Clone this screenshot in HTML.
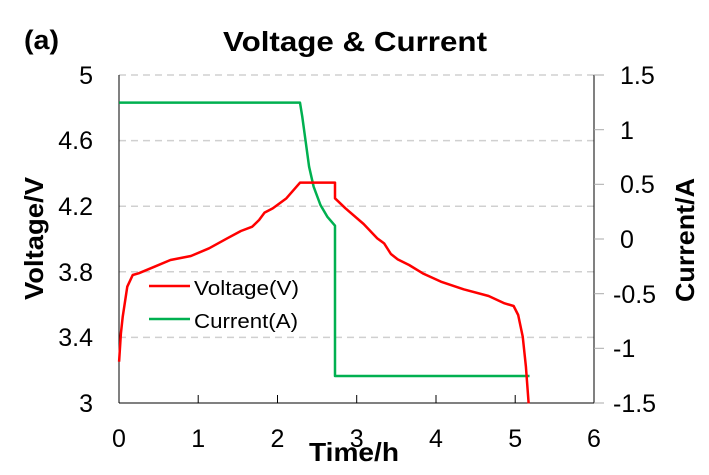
<!DOCTYPE html>
<html><head><style>body{margin:0;background:#fff}svg{display:block}text{font-family:"Liberation Sans",sans-serif}</style></head>
<body>
<svg width="709" height="475" viewBox="0 0 709 475">
<text x="24" y="49" font-size="27" font-weight="bold" textLength="35" lengthAdjust="spacingAndGlyphs">(a)</text>
<text x="223" y="51" font-size="28" font-weight="bold" textLength="264" lengthAdjust="spacingAndGlyphs">Voltage &amp; Current</text>
<g stroke="#d0d0d0" stroke-width="1.5" stroke-dasharray="7,5">
<line x1="119" y1="75" x2="594" y2="75"/>
<line x1="119" y1="140.6" x2="594" y2="140.6"/>
<line x1="119" y1="206.2" x2="594" y2="206.2"/>
<line x1="119" y1="271.8" x2="594" y2="271.8"/>
<line x1="119" y1="337.4" x2="594" y2="337.4"/>
</g>
<g stroke="#000" stroke-width="1" fill="none">
<line x1="119" y1="75" x2="119" y2="403"/>
<line x1="119" y1="403" x2="594" y2="403"/>
<line x1="594" y1="75" x2="594" y2="403"/>
<line x1="198.2" y1="403" x2="198.2" y2="395"/>
<line x1="277.5" y1="403" x2="277.5" y2="395"/>
<line x1="356.7" y1="403" x2="356.7" y2="395"/>
<line x1="436" y1="403" x2="436" y2="395"/>
<line x1="515.2" y1="403" x2="515.2" y2="395"/>
</g>
<g stroke="#aaa" stroke-width="1">
<line x1="594" y1="75" x2="604" y2="75"/><line x1="594" y1="129.7" x2="604" y2="129.7"/>
<line x1="594" y1="184.3" x2="604" y2="184.3"/><line x1="594" y1="239" x2="604" y2="239"/>
<line x1="594" y1="293.7" x2="604" y2="293.7"/><line x1="594" y1="348.3" x2="604" y2="348.3"/>
<line x1="594" y1="403" x2="604" y2="403"/>
</g>
<g font-size="25" text-anchor="end">
<text x="93" y="84">5</text><text x="93" y="149">4.6</text><text x="93" y="215">4.2</text>
<text x="93" y="281">3.8</text><text x="93" y="346">3.4</text><text x="93" y="412">3</text>
</g>
<g font-size="25">
<text x="620" y="84">1.5</text><text x="620" y="139">1</text><text x="620" y="193">0.5</text>
<text x="620" y="248">0</text><text x="613" y="303">-0.5</text><text x="613" y="357">-1</text>
<text x="613" y="412">-1.5</text>
</g>
<g font-size="25" text-anchor="middle">
<text x="119" y="447">0</text><text x="198.2" y="447">1</text><text x="277.5" y="447">2</text>
<text x="356.7" y="447">3</text><text x="436" y="447">4</text><text x="515.2" y="447">5</text><text x="594" y="447">6</text>
</g>
<text x="309" y="461" font-size="26" font-weight="bold" textLength="90" lengthAdjust="spacingAndGlyphs">Time/h</text>
<text transform="translate(43,300) rotate(-90)" font-size="26" font-weight="bold" textLength="123" lengthAdjust="spacingAndGlyphs">Voltage/V</text>
<text transform="translate(694,302) rotate(-90)" font-size="26" font-weight="bold" textLength="124" lengthAdjust="spacingAndGlyphs">Current/A</text>
<g transform="scale(0.454545,0.333333)" fill="none" stroke-width="2.5" stroke-linejoin="round">
<path vector-effect="non-scaling-stroke" stroke="#00b050" d="M262,308 L660,308 L665,350 L672,420 L680,500 L690,560 L705,615 L720,650 L737,677 L737,1128 L1165,1128"/>
<path vector-effect="non-scaling-stroke" stroke="#ff0000" d="M262,1085 L266,1000 L270,950 L280,860 L292,825 L305,820 L340,800 L375,780 L420,768 L460,745 L500,715 L530,693 L555,680 L570,660 L582,638 L600,625 L630,595 L660,548 L737,548 L737,595 L760,625 L800,672 L830,715 L845,730 L860,762 L875,778 L900,795 L930,820 L970,845 L1020,868 L1075,888 L1110,910 L1130,918 L1140,945 L1150,1010 L1157,1100 L1163,1210"/>
</g>
<line x1="149" y1="286" x2="190" y2="286" stroke="#ff0000" stroke-width="2.5"/>
<line x1="149" y1="319" x2="190" y2="319" stroke="#00b050" stroke-width="2.5"/>
<text x="194" y="295" font-size="20" textLength="105" lengthAdjust="spacingAndGlyphs">Voltage(V)</text>
<text x="194" y="328" font-size="20" textLength="104" lengthAdjust="spacingAndGlyphs">Current(A)</text>
</svg>
</body></html>
